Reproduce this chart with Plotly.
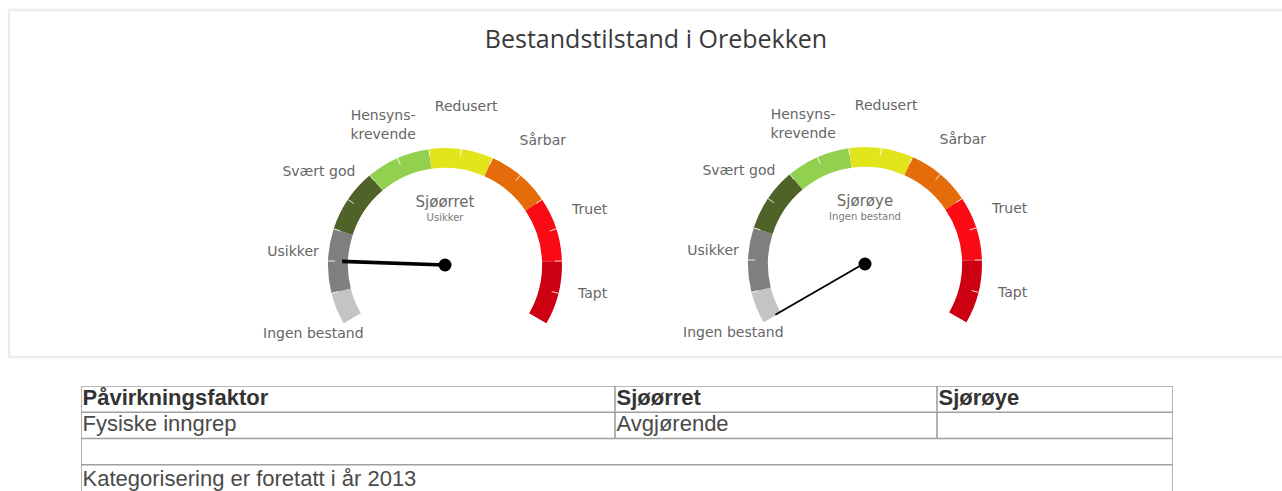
import plotly.graph_objects as go

# ---------------- data ----------------
title_text = "Bestandstilstand i Orebekken"
categories = ["Ingen bestand", "Usikker", "Svært god", "Hensyns-<br>krevende",
              "Redusert", "Sårbar", "Truet", "Tapt"]
band_from = [0.0, 0.5, 1.5, 2.5, 3.5, 4.5, 5.5, 6.5]
band_to = [0.5, 1.5, 2.5, 3.5, 4.5, 5.5, 6.5, 7.5]
band_colors = ["#c4c4c4", "#7f7f7f", "#4f6228", "#92d050",
               "#e2e51c", "#e46c0a", "#fa0a14", "#cc0011"]
label_values = [0, 1, 2, 3, 4, 5, 6, 7]
tick_values = [0.5, 1.0, 1.5, 2.0, 2.5, 3.0, 3.5, 4.0, 4.5, 5.0, 5.5, 6.0, 6.5, 7.0]
scale_min, scale_max = 0.0, 7.5

species = ["Sjøørret", "Sjørøye"]
status_text = ["Usikker", "Ingen bestand"]
status_values = [1, 0]

table_header = ["Påvirkningsfaktor", "Sjøørret", "Sjørøye"]
table_row = ["Fysiske inngrep", "Avgjørende", ""]
table_note = "Kategorisering er foretatt i år 2013"
col_widths = [534, 322, 236]

# ---------------- geometry / style ----------------
W, H = 1282, 491
SPAN = 240.0
DEG = SPAN / (scale_max - scale_min)


def th(v):
    return (v - scale_min) * DEG


gauge_centers = [(445, 265), (865, 264)]
R = 117          # px for r = 1 (outer edge of the band)
RMAX = 1.45      # radial range, leaves room for the labels
INNER = 0.83
LABEL_FONT = "DejaVu Sans"

fig = go.Figure()
layout_polars = {}
for k, (name, stat, val) in enumerate(zip(species, status_text, status_values)):
    pid = "polar" if k == 0 else f"polar{k+1}"
    cx, cy = gauge_centers[k]
    rp = R * RMAX
    dom_x = [(cx - rp) / W, (cx + rp) / W]
    dom_y = [1 - (cy + 0.5 * rp) / H, 1 - (cy - rp) / H]
    mids = [th((a + b) / 2) for a, b in zip(band_from, band_to)]
    widths = [(b - a) * DEG for a, b in zip(band_from, band_to)]
    fig.add_trace(go.Barpolar(
        r=[1 - INNER] * len(mids), base=[INNER] * len(mids), theta=mids, width=widths,
        marker=dict(color=band_colors, line=dict(width=0)),
        subplot=pid, hoverinfo="skip", showlegend=False))
    # small white ticks on the band
    tr, tt = [], []
    for v in tick_values:
        tr += [0.94, 1.0, None]
        tt += [th(v), th(v), None]
    fig.add_trace(go.Scatterpolar(
        r=tr, theta=tt, mode="lines", line=dict(color="rgba(255,255,255,0.85)", width=1),
        subplot=pid, hoverinfo="skip", showlegend=False))
    # category labels
    tpos = ["top center"] * len(categories)
    tpos[3] = "middle center"
    fig.add_trace(go.Scatterpolar(
        r=[1.3] * len(categories), theta=[th(v) for v in label_values],
        mode="text", text=categories, textposition=tpos,
        textfont=dict(family=LABEL_FONT, size=14, color="#666666"),
        cliponaxis=False, subplot=pid, hoverinfo="skip", showlegend=False))
    # centre texts
    mid_theta = th((scale_min + scale_max) / 2)
    fig.add_trace(go.Scatterpolar(
        r=[0.525], theta=[mid_theta], mode="text", text=[name],
        textfont=dict(family=LABEL_FONT, size=15, color="#6a6a6a"),
        cliponaxis=False, subplot=pid, hoverinfo="skip", showlegend=False))
    fig.add_trace(go.Scatterpolar(
        r=[0.395], theta=[mid_theta], mode="text", text=[stat],
        textfont=dict(family=LABEL_FONT, size=10, color="#7a7a7a"),
        cliponaxis=False, subplot=pid, hoverinfo="skip", showlegend=False))
    # needle
    fig.add_trace(go.Scatterpolar(
        r=[0, 0.88], theta=[th(val), th(val)], mode="lines",
        line=dict(color="black", width=3.6),
        subplot=pid, hoverinfo="skip", showlegend=False))
    fig.add_trace(go.Scatterpolar(
        r=[0], theta=[th(val)], mode="markers",
        marker=dict(color="black", size=13),
        subplot=pid, hoverinfo="skip", showlegend=False))
    layout_polars[pid] = dict(
        domain=dict(x=dom_x, y=dom_y), sector=[-30, 210], hole=0,
        bgcolor="rgba(0,0,0,0)",
        radialaxis=dict(visible=False, range=[0, RMAX]),
        angularaxis=dict(rotation=210, direction="clockwise", visible=False,
                         showline=False, showgrid=False, ticks="",
                         showticklabels=False))

# ---------------- table (cartesian grid) ----------------
t_top = 386
n_rows = 4
col_edges = [0]
for w in col_widths:
    col_edges.append(col_edges[-1] + w)
total_w = col_edges[-1]
line_col = "#a0a0a0"
shapes = []
for r_i in range(n_rows):
    shapes.append(dict(type="line", xref="x", yref="y", x0=0, x1=total_w,
                       y0=r_i, y1=r_i, line=dict(color=line_col, width=1.6)))
for e in (col_edges[0], col_edges[-1]):
    shapes.append(dict(type="line", xref="x", yref="y", x0=e, x1=e, y0=0, y1=n_rows,
                       line=dict(color=line_col, width=1.6)))
for e in col_edges[1:-1]:
    shapes.append(dict(type="line", xref="x", yref="y", x0=e, x1=e, y0=0, y1=2,
                       line=dict(color=line_col, width=1.6)))

TFONT = "Liberation Sans"
fig.add_trace(go.Scatter(
    x=[e + 1.5 for e in col_edges[:-1]], y=[0.52] * 3, mode="text",
    text=[f"<b>{h}</b>" for h in table_header], textposition="middle right",
    textfont=dict(family=TFONT, size=22, color="#333333"),
    cliponaxis=False, hoverinfo="skip", showlegend=False))
fig.add_trace(go.Scatter(
    x=[e + 1.5 for e in col_edges[:-1]], y=[1.52] * 3, mode="text",
    text=table_row, textposition="middle right",
    textfont=dict(family=TFONT, size=22, color="#4a4a4a"),
    cliponaxis=False, hoverinfo="skip", showlegend=False))
fig.add_trace(go.Scatter(
    x=[1.5], y=[3.6], mode="text", text=[table_note], textposition="middle right",
    textfont=dict(family=TFONT, size=22, color="#4a4a4a"),
    cliponaxis=False, hoverinfo="skip", showlegend=False))

shapes.append(dict(type="rect", xref="paper", yref="paper", x0=9 / W, x1=1.01,
                   y0=1 - 357 / H, y1=1 - 10 / H,
                   line=dict(color="#ededed", width=2.5)))

fig.update_layout(
    width=W, height=H, margin=dict(l=0, r=0, t=0, b=0),
    paper_bgcolor="white", plot_bgcolor="rgba(0,0,0,0)",
    title=dict(text=title_text, x=656 / W, xanchor="center", y=1 - 39 / H,
               yanchor="middle",
               font=dict(family="Open Sans", size=25, color="#3a3a3a")),
    xaxis=dict(domain=[81 / W, 1173 / W], range=[0, total_w], visible=False,
               fixedrange=True),
    yaxis=dict(domain=[0, 1 - t_top / H],
               range=[n_rows, 0], visible=False, fixedrange=True),
    shapes=shapes,
    **layout_polars)

fig.write_html("out.html", config={"displayModeBar": False},
               post_script="document.body.style.margin='0px';")
